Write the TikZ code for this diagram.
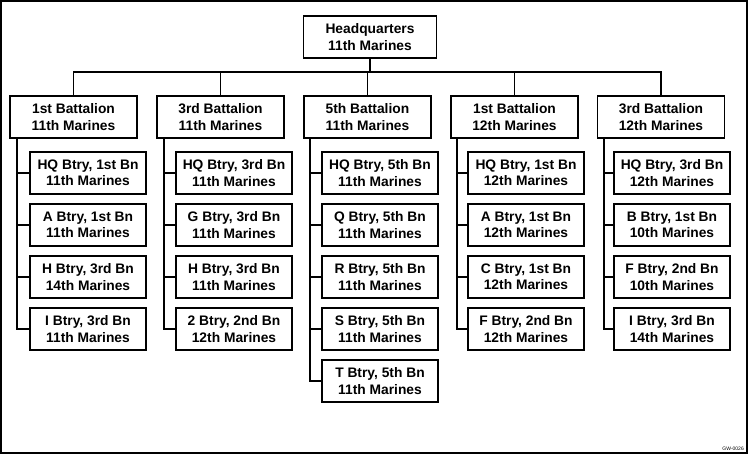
\documentclass[tikz,border=0pt]{standalone}
\usepackage{fontspec}
\setmainfont{Liberation Sans}
\begin{document}
\begin{tikzpicture}[x=1pt,y=-1pt,
  box/.style={draw,line width=1.5pt,minimum width=127pt,minimum height=42pt,inner sep=0pt,align=center,font=\fontsize{13.8}{16.5}\selectfont\bfseries},
  bbox/.style={box,minimum width=116pt},
  conn/.style={line width=1.2pt}]
\useasboundingbox (0,0) rectangle (748,454);
\draw[line width=1.4pt] (1,1) rectangle (747,453);
\node[box,minimum width=133pt] (hq) at (370,37) {Headquarters\\11th Marines};
% battalions
\node[box] (b1) at (73.5,117) {1st Battalion\\11th Marines};
\node[box] (b2) at (220.5,117) {3rd Battalion\\11th Marines};
\node[box] (b3) at (367.5,117) {5th Battalion\\11th Marines};
\node[box] (b4) at (514.5,117) {1st Battalion\\12th Marines};
\node[box] (b5) at (661,117) {3rd Battalion\\12th Marines};
\coordinate (bus) at (370,72);
\draw[conn] (hq.south) -- (bus);
\draw[conn] (b1.north) |- (bus) -| (b5.north);
\draw[conn] (b2.north) -- (b2.north |- bus);
\draw[conn] (b3.north) -- (b3.north |- bus);
\draw[conn] (b4.north) -- (b4.north |- bus);
% spine tops
\coordinate (sp1) at (17,138);
\coordinate (sp2) at (164,138);
\coordinate (sp3) at (310,138);
\coordinate (sp4) at (457,138);
\coordinate (sp5) at (604,138);
% column 1
\node[bbox] (c11) at (88,173) {HQ Btry, 1st Bn\\11th Marines};
\node[bbox] (c12) at (88,225) {A Btry, 1st Bn\\11th Marines};
\node[bbox] (c13) at (88,277) {H Btry, 3rd Bn\\14th Marines};
\node[bbox] (c14) at (88,329) {I Btry, 3rd Bn\\11th Marines};
% column 2
\node[bbox] (c21) at (234,173) {HQ Btry, 3rd Bn\\11th Marines};
\node[bbox] (c22) at (234,225) {G Btry, 3rd Bn\\11th Marines};
\node[bbox] (c23) at (234,277) {H Btry, 3rd Bn\\11th Marines};
\node[bbox] (c24) at (234,329) {2 Btry, 2nd Bn\\12th Marines};
% column 3
\node[bbox] (c31) at (380,173) {HQ Btry, 5th Bn\\11th Marines};
\node[bbox] (c32) at (380,225) {Q Btry, 5th Bn\\11th Marines};
\node[bbox] (c33) at (380,277) {R Btry, 5th Bn\\11th Marines};
\node[bbox] (c34) at (380,329) {S Btry, 5th Bn\\11th Marines};
\node[bbox] (c35) at (380,381) {T Btry, 5th Bn\\11th Marines};
% column 4
\node[bbox] (c41) at (526,173) {HQ Btry, 1st Bn\\12th Marines};
\node[bbox] (c42) at (526,225) {A Btry, 1st Bn\\12th Marines};
\node[bbox] (c43) at (526,277) {C Btry, 1st Bn\\12th Marines};
\node[bbox] (c44) at (526,329) {F Btry, 2nd Bn\\12th Marines};
% column 5
\node[bbox] (c51) at (672,173) {HQ Btry, 3rd Bn\\12th Marines};
\node[bbox] (c52) at (672,225) {B Btry, 1st Bn\\10th Marines};
\node[bbox] (c53) at (672,277) {F Btry, 2nd Bn\\10th Marines};
\node[bbox] (c54) at (672,329) {I Btry, 3rd Bn\\14th Marines};
% spines
\draw[conn] (sp1) |- (c14.west); \foreach \r in {1,2,3}{\draw[conn] (sp1 |- c1\r.west) -- (c1\r.west);}
\draw[conn] (sp2) |- (c24.west); \foreach \r in {1,2,3}{\draw[conn] (sp2 |- c2\r.west) -- (c2\r.west);}
\draw[conn] (sp3) |- (c35.west); \foreach \r in {1,2,3,4}{\draw[conn] (sp3 |- c3\r.west) -- (c3\r.west);}
\draw[conn] (sp4) |- (c44.west); \foreach \r in {1,2,3}{\draw[conn] (sp4 |- c4\r.west) -- (c4\r.west);}
\draw[conn] (sp5) |- (c54.west); \foreach \r in {1,2,3}{\draw[conn] (sp5 |- c5\r.west) -- (c5\r.west);}
\node[font=\fontsize{5}{6}\selectfont,anchor=south east,inner sep=0pt] (gw) at (744,451) {GW-0026};
\end{tikzpicture}
\end{document}
